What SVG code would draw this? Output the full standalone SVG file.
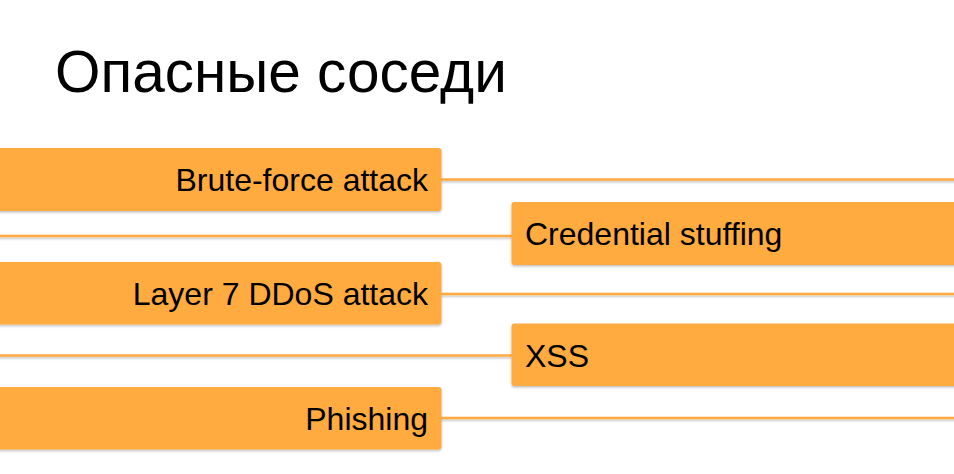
<svg xmlns="http://www.w3.org/2000/svg" width="954" height="474" viewBox="0 0 954 474">
<defs>
<filter id="sh" filterUnits="userSpaceOnUse" x="-20" y="0" width="1000" height="474">
<feDropShadow dx="0" dy="1.5" stdDeviation="1" flood-color="#000" flood-opacity="0.25"/>
</filter>
</defs>
<style>
.box{fill:#ffab40;filter:url(#sh)}
.lbl{font-family:"Liberation Sans",Arial,sans-serif;font-size:32px;fill:#000}
.end{text-anchor:end}
.ln{stroke:#ffab40;stroke-width:2.5;fill:none;filter:url(#sh)}
.title{font-family:"Liberation Sans",Arial,sans-serif;font-size:58.5px;fill:#000}
</style>
<rect width="954" height="474" fill="#fff"/>
<text class="title" x="55" y="92">Опасные соседи</text>
<g id="connectors">
<path class="ln" d="M441 179.5H960"/>
<path class="ln" d="M-5 236H512"/>
<path class="ln" d="M441 294H960"/>
<path class="ln" d="M-5 355.5H512"/>
<path class="ln" d="M441 418H960"/>
</g>
<g id="brute-force">
<rect class="box" x="-10" y="148" width="451.5" height="63" rx="3"/>
<text class="lbl end" x="428" y="191">Brute-force attack</text>
</g>
<g id="credential-stuffing">
<rect class="box" x="511.5" y="202" width="460" height="63" rx="3"/>
<text class="lbl" x="525" y="245">Credential stuffing</text>
</g>
<g id="layer7-ddos">
<rect class="box" x="-10" y="262" width="451.5" height="62.5" rx="3"/>
<text class="lbl end" x="428" y="305">Layer 7 DDoS attack</text>
</g>
<g id="xss">
<rect class="box" x="511.5" y="323.5" width="460" height="62.5" rx="3"/>
<text class="lbl" x="525" y="366.5">XSS</text>
</g>
<g id="phishing">
<rect class="box" x="-10" y="387" width="451.5" height="62.5" rx="3"/>
<text class="lbl end" x="428" y="430">Phishing</text>
</g>
</svg>
